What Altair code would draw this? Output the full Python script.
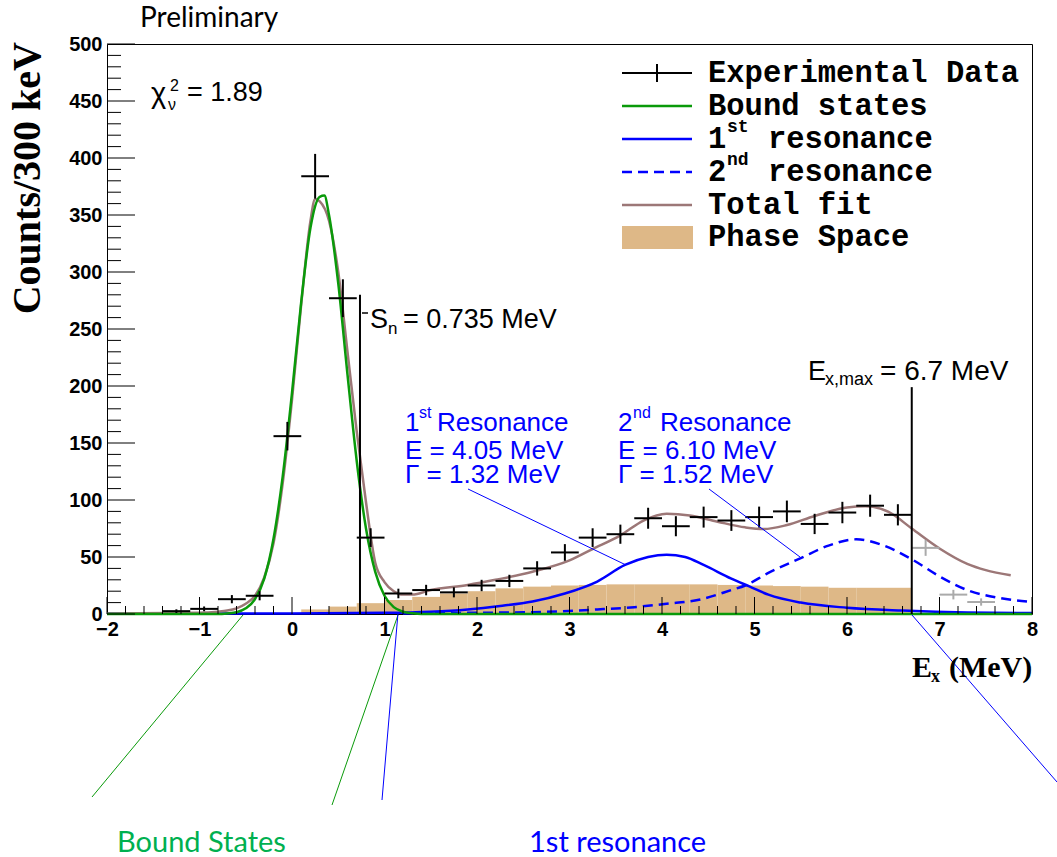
import altair as alt
import pandas as pd

# ---------------- data ----------------
bin_centers = [-1.25, -0.95, -0.65, -0.35, -0.05, 0.25, 0.55, 0.85, 1.15, 1.45, 1.75, 2.05, 2.35,
               2.65, 2.95, 3.25, 3.55, 3.85, 4.15, 4.45, 4.75, 5.05, 5.35, 5.65, 5.95, 6.25, 6.55]
counts = [2.5, 4.5, 13, 16, 156, 384, 277, 67, 18, 21, 19, 25, 29,
          40, 54, 67, 70, 84, 77, 85, 82, 85, 90, 79, 89, 95, 87]
count_err = [1.6, 2.1, 3.6, 4.0, 12.5, 19.6, 16.6, 8.2, 4.2, 4.6, 4.4, 5.0, 5.4,
             6.3, 7.3, 8.2, 8.4, 9.2, 8.8, 9.2, 9.1, 9.2, 9.5, 8.9, 9.4, 9.7, 9.3]
out_centers = [6.85, 7.15, 7.45]
out_counts = [58, 17, 10.5]
out_err = [7.0, 4.2, 3.2]
half_bin = 0.15

ps_lo = [0.1, 0.4, 0.7, 1.0, 1.3, 1.6, 1.9, 2.2, 2.5, 2.8, 3.1, 3.4, 3.7, 4.0, 4.3, 4.6,
         4.9, 5.2, 5.5, 5.8, 6.1, 6.4]
ps_hi = [0.4, 0.7, 1.0, 1.3, 1.6, 1.9, 2.2, 2.5, 2.8, 3.1, 3.4, 3.7, 4.0, 4.3, 4.6, 4.9,
         5.2, 5.5, 5.8, 6.1, 6.4, 6.7]
ps_vals = [4, 6.5, 9.5, 12.3, 15, 18, 20, 22.5, 24, 25, 25.5, 26, 26, 26, 26, 25.5,
           25, 24.5, 24, 23, 23, 23]

bound_x = [-2, -0.8, -0.7, -0.6, -0.5, -0.4, -0.3, -0.2, -0.1, 0.0, 0.1, 0.2, 0.3, 0.35,
           0.4, 0.5, 0.6, 0.7, 0.8, 0.9, 1.0, 1.1, 1.2, 1.3, 1.4, 8]
bound_y = [0, 0, 0.5, 1.5, 5, 13, 31, 66, 121, 194, 274, 339, 366, 367,
           350, 290, 210, 134, 75, 37, 16, 6, 2, 0.6, 0, 0]

total_x = [-2, -1.0, -0.8, -0.7, -0.6, -0.5, -0.4, -0.3, -0.2, -0.1, 0.0, 0.1, 0.2, 0.25, 0.3,
           0.4, 0.5, 0.6, 0.7, 0.8, 0.9, 1.0, 1.1, 1.2, 1.3, 1.5, 1.9, 2.2, 2.6, 3.0, 3.25,
           3.55, 3.8, 4.05, 4.3, 4.6, 4.9, 5.1, 5.35, 5.65, 6.0, 6.2, 6.45, 6.7, 7.0, 7.3,
           7.5, 7.77]
total_y = [0.5, 1, 2, 3, 5, 9, 16, 32, 62, 115, 188, 272, 345, 364, 362,
           345, 300, 230, 160, 98, 45, 28, 20, 17, 17, 21, 25.5, 30, 37, 47, 57,
           69, 82, 88, 86.5, 81, 76, 74.5, 78, 86, 93.5, 94.5, 89.5, 75, 57.5, 44,
           38.5, 34]

res1_x = [-2, 0, 1.0, 1.5, 1.9, 2.25, 2.6, 2.95, 3.3, 3.6, 3.85, 4.05, 4.25, 4.45, 4.75,
          4.95, 5.15, 5.5, 6.0, 6.6, 7.3, 8]
res1_y = [0.4, 0.5, 1, 2, 4, 7, 11, 18, 28.5, 43, 50, 52, 50, 43, 31,
          24, 17, 10, 5.5, 3, 1.3, 0.8]

res2_x = [1.2, 1.9, 2.6, 3.3, 3.7, 4.05, 4.4, 4.75, 4.9, 5.15, 5.5, 5.8, 6.1, 6.4, 6.7,
          7.0, 7.3, 7.65, 8.0]
res2_y = [0.5, 1, 1.6, 4, 6, 9, 12.5, 21, 25, 36, 49, 60, 65.5, 60, 48,
          33, 21, 14, 10.5]

sn_value = 0.735
sn_top = 280
exmax_value = 6.7
exmax_top = 199

x_major = list(range(-2, 9))
x_minor = [round(-2 + 0.2 * i, 1) for i in range(51) if i % 5 != 0]
y_major = list(range(0, 501, 50))
y_minor = [v for v in range(0, 501, 10) if v % 50 != 0]

# ---------------- layout helpers ----------------
W, H = 925, 570
L, T = 107, 44

def X(px):
    return px - L

def Y(py):
    return py - T

one = pd.DataFrame({"k": [0]})

def txt(s, x, y, size, color="black", font="Liberation Sans", weight="normal",
        align="left", baseline="middle", angle=None):
    kw = dict(text=s, font=font, fontSize=size, fontWeight=weight, color=color,
              align=align, baseline=baseline)
    if angle is not None:
        kw["angle"] = angle
    return alt.Chart(one).mark_text(**kw).encode(x=alt.value(X(x)), y=alt.value(Y(y)))

def seg(x1, y1, x2, y2, color, width=1.0, dash=None):
    kw = dict(color=color, strokeWidth=width)
    if dash is not None:
        kw["strokeDash"] = dash
    return alt.Chart(one).mark_rule(**kw).encode(
        x=alt.value(X(x1)), y=alt.value(Y(y1)), x2=alt.value(X(x2)), y2=alt.value(Y(y2)))

xs = alt.Scale(domain=[-2, 8], nice=False, zero=False)
ys = alt.Scale(domain=[0, 500], nice=False, zero=False)

xaxis = alt.Axis(values=x_major, ticks=False, domain=False, grid=False, title=None,
                 labelFont="Liberation Sans", labelFontWeight="bold", labelFontSize=20,
                 labelPadding=5, labelColor="black", labelFlush=False)
yaxis = alt.Axis(values=y_major, ticks=False, domain=False, grid=False, title=None,
                 labelFont="Liberation Sans", labelFontWeight="bold", labelFontSize=20,
                 labelPadding=5, labelColor="black", labelFlush=False)

def XQ(f):
    return alt.X(f, scale=xs, axis=xaxis)

def YQ(f):
    return alt.Y(f, scale=ys, axis=yaxis)

GREEN = "#0a9a0a"
BLUE = "#0000ff"
BROWN = "#9c7777"
TAN = "#deb887"

# phase space
ps_df = pd.DataFrame({"lo": ps_lo, "hi": ps_hi, "v": ps_vals, "z": [0] * len(ps_vals)})
phase = alt.Chart(ps_df).mark_rect(color=TAN).encode(
    x=XQ("lo:Q"), x2="hi:Q", y=YQ("v:Q"), y2="z:Q")

def curve(xv, yv, color, width=2.5, dash=None):
    kw = dict(color=color, strokeWidth=width, interpolate="monotone")
    if dash is not None:
        kw["strokeDash"] = dash
    return alt.Chart(pd.DataFrame({"x": xv, "y": yv})).mark_line(**kw).encode(
        x=XQ("x:Q"), y=YQ("y:Q"))

c_res2 = curve(res2_x, res2_y, BLUE, 2.5, [10, 6])
c_res1 = curve(res1_x, res1_y, BLUE, 2.5)
c_total = curve(total_x, total_y, BROWN, 2.5)
c_bound = curve(bound_x, bound_y, GREEN, 2.5)

def crosses(cx, cy, ce, color):
    df = pd.DataFrame({"x": cx, "y": cy})
    df["lo"] = df["x"] - half_bin
    df["hi"] = df["x"] + half_bin
    df["ylo"] = [a - b for a, b in zip(cy, ce)]
    df["yhi"] = [a + b for a, b in zip(cy, ce)]
    hbar = alt.Chart(df).mark_rule(color=color, strokeWidth=2).encode(
        x=XQ("lo:Q"), x2="hi:Q", y=YQ("y:Q"))
    vbar = alt.Chart(df).mark_rule(color=color, strokeWidth=2).encode(
        x=XQ("x:Q"), y=YQ("ylo:Q"), y2="yhi:Q")
    return [hbar, vbar]

data_marks = crosses(bin_centers, counts, count_err, "black")
out_marks = crosses(out_centers, out_counts, out_err, "#aaaaaa")

vl_df = pd.DataFrame({"x": [sn_value, exmax_value], "y0": [0, 0], "y1": [sn_top, exmax_top]})
vlines = alt.Chart(vl_df).mark_rule(color="black", strokeWidth=2).encode(
    x=XQ("x:Q"), y=YQ("y0:Q"), y2="y1:Q")

# inner ticks
xmaj = alt.Chart(pd.DataFrame({"t": x_major})).mark_rule(color="black", strokeWidth=1).encode(
    x=XQ("t:Q"), y=alt.value(H), y2=alt.value(H - 17))
xmin = alt.Chart(pd.DataFrame({"t": x_minor})).mark_rule(color="black", strokeWidth=1).encode(
    x=XQ("t:Q"), y=alt.value(H), y2=alt.value(H - 8))
ymaj = alt.Chart(pd.DataFrame({"t": y_major})).mark_rule(color="black", strokeWidth=1).encode(
    y=YQ("t:Q"), x=alt.value(0), x2=alt.value(28))
ymin = alt.Chart(pd.DataFrame({"t": y_minor})).mark_rule(color="black", strokeWidth=1).encode(
    y=YQ("t:Q"), x=alt.value(0), x2=alt.value(14))

ann = []
# pointer lines
ann += [seg(468, 489, 626, 565, BLUE), seg(709, 489, 800, 557, BLUE)]
ann += [seg(243, 615, 92, 797, GREEN), seg(398, 615, 332, 805, GREEN),
        seg(398, 613, 382, 800, BLUE), seg(912, 615, 1057, 782, BLUE)]
ann += [seg(362, 313, 368, 313, "black", 1.5)]

# legend
LX1, LX2, TX = 622, 692, 708
rows = [73, 106, 139, 172, 205, 237]
MONO = "Liberation Mono"
LS = 30.5
ann += [seg(LX1, rows[0], LX2, rows[0], "black", 2), seg(657, rows[0] - 9, 657, rows[0] + 9, "black", 2),
        seg(LX1, rows[1], LX2, rows[1], GREEN, 2.5),
        seg(LX1, rows[2], LX2, rows[2], BLUE, 2.5),
        seg(LX1, rows[3], LX2, rows[3], BLUE, 2.5, [10, 6]),
        seg(LX1, rows[4], LX2, rows[4], BROWN, 2.5)]
ann.append(alt.Chart(one).mark_rect(color=TAN).encode(
    x=alt.value(X(622)), x2=alt.value(X(693)), y=alt.value(Y(226)), y2=alt.value(Y(249))))
ann += [txt("Experimental Data", TX, rows[0], LS, font=MONO, weight="bold"),
        txt("Bound states", TX, rows[1], LS, font=MONO, weight="bold"),
        txt("1", TX, rows[2], LS, font=MONO, weight="bold"),
        txt("st", TX + 19, rows[2] - 12, 18, font=MONO, weight="bold"),
        txt("resonance", 768, rows[2], LS, font=MONO, weight="bold"),
        txt("2", TX, rows[3], LS, font=MONO, weight="bold"),
        txt("nd", TX + 19, rows[3] - 12, 18, font=MONO, weight="bold"),
        txt("resonance", 768, rows[3], LS, font=MONO, weight="bold"),
        txt("Total fit", TX, rows[4], LS, font=MONO, weight="bold"),
        txt("Phase Space", TX, rows[5], LS, font=MONO, weight="bold")]

# resonance annotation blocks
RS = 26
ann += [txt("1", 405, 423, RS, BLUE), txt("st", 419, 413, 16, BLUE),
        txt("Resonance", 437, 423, RS, BLUE),
        txt("E = 4.05 MeV", 405, 451, RS, BLUE),
        txt("\u0393 = 1.32 MeV", 405, 475, RS, BLUE),
        txt("2", 618, 423, RS, BLUE), txt("nd", 633, 413, 16, BLUE),
        txt("Resonance", 660, 423, RS, BLUE),
        txt("E = 6.10 MeV", 618, 451, RS, BLUE),
        txt("\u0393 = 1.52 MeV", 618, 475, RS, BLUE)]

# S_n, E_x,max, chi2
ann += [txt("S", 370, 320, 27), txt("n", 388, 329, 17), txt("= 0.735 MeV", 403, 320, 27)]
ann += [txt("E", 808, 372, 27), txt("x,max", 825, 380, 18), txt("= 6.7 MeV", 880, 372, 28)]
ann += [txt("\u03c7", 151, 94, 29), txt("2", 170, 86, 16), txt("\u03bd", 168, 105, 16),
        txt("= 1.89", 187, 93, 27)]

# titles and slide labels
ann += [txt("Counts/300 keV", 28, 42, 40, font="Liberation Serif", weight="bold",
            align="right", angle=270),
        txt("E", 912, 668, 30, font="Liberation Serif", weight="bold"),
        txt("x", 931, 677, 18, font="Liberation Serif", weight="bold"),
        txt("(MeV)", 949, 668, 30, font="Liberation Serif", weight="bold"),
        txt("Preliminary", 140, 19, 28, font="Lato"),
        txt("Bound States", 117, 843, 29, color="#00b050", font="Lato"),
        txt("1st resonance", 529, 843, 29, color=BLUE, font="Lato")]

chart = alt.layer(
    phase, c_res2, c_res1, c_total, c_bound, *data_marks, *out_marks, vlines,
    xmaj, xmin, ymaj, ymin, *ann
).properties(
    width=W, height=H,
    autosize=alt.AutoSizeParams(type="none"),
    padding={"left": L, "top": T, "right": 1057 - L - W, "bottom": 857 - T - H},
    background="white",
).configure_view(stroke="black", strokeWidth=1)

chart.save("out.html", embed_options={"renderer": "svg", "actions": False})
